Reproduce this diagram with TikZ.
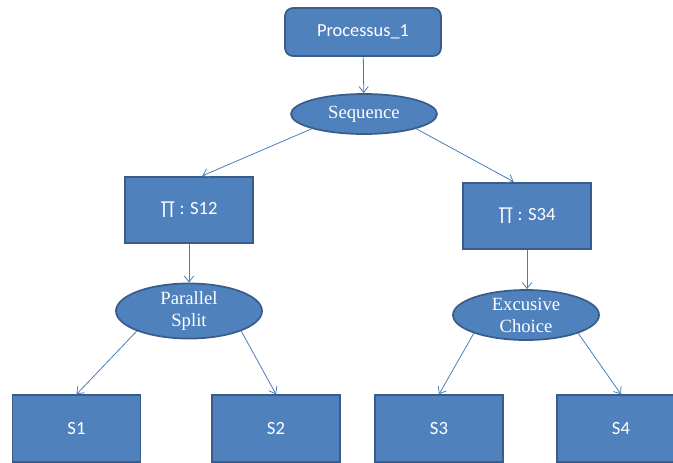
\documentclass[tikz,border=0pt]{standalone}
\usepackage{fontspec}
\setmainfont{Liberation Serif}
\newfontfamily\boxfont{Carlito}
\usetikzlibrary{arrows.meta,shapes.geometric}

\definecolor{boxblue}{HTML}{4F81BD}
\definecolor{edgeblue}{HTML}{385D8A}
\definecolor{linkblue}{HTML}{4A7EBB}

\begin{document}
\begin{tikzpicture}[x=0.75pt,y=-0.75pt,
  block/.style={rectangle,fill=boxblue,draw=edgeblue,line width=1.3pt,text=white,
    minimum width=96pt,minimum height=50pt,font=\boxfont\fontsize{14}{16}\selectfont},
  pattern/.style={ellipse,fill=boxblue,draw=edgeblue,line width=1.3pt,text=white,
    minimum width=109.5pt,inner sep=0pt,align=center,font=\fontsize{14}{16.5}\selectfont},
  link/.style={draw=linkblue,line width=0.6pt,-{Straight Barb[length=4.5pt,width=7pt]}}]
\clip (0,0) rectangle (673,462);

% root
\node[block,rounded corners=6pt,minimum width=117pt,minimum height=36pt,
  font=\boxfont\fontsize{13.8}{16}\selectfont] (proc) at (363,32) {Processus\_1};
\node[pattern,minimum height=30pt] (seq) at (364,114) {Sequence};

% branches
\node[block] (s12) at (189,210) {∏ : S12};
\node[block] (s34) at (527,216) {∏ : S34};
\node[pattern,minimum height=36pt] (par) at (189,311) {Parallel\\Split};
\node[pattern,minimum height=37.5pt] (xor) at (526,315) {Excusive\\Choice};

% leaves
\node[block] (s1) at (76.5,428.5) {S1};
\node[block] (s2) at (276,428.5) {S2};
\node[block] (s3) at (439,428.5) {S3};
\node[block] (s4) at (621,428.5) {S4};

\draw[link] (proc) -- (seq);
\draw[link] (seq.south west) -- ([xshift=10pt]s12.north);
\draw[link] (seq.south east) -- ([xshift=-10pt]s34.north);
\draw[link] (s12) -- (par);
\draw[link] (s34.south) -- (s34.south |- xor.north);
\draw[link] (par.south west) -- (s1.north);
\draw[link] (par.south east) -- (s2.north);
\draw[link] (xor.south west) -- (s3.north);
\draw[link] (xor.south east) -- (s4.north);
\end{tikzpicture}
\end{document}
